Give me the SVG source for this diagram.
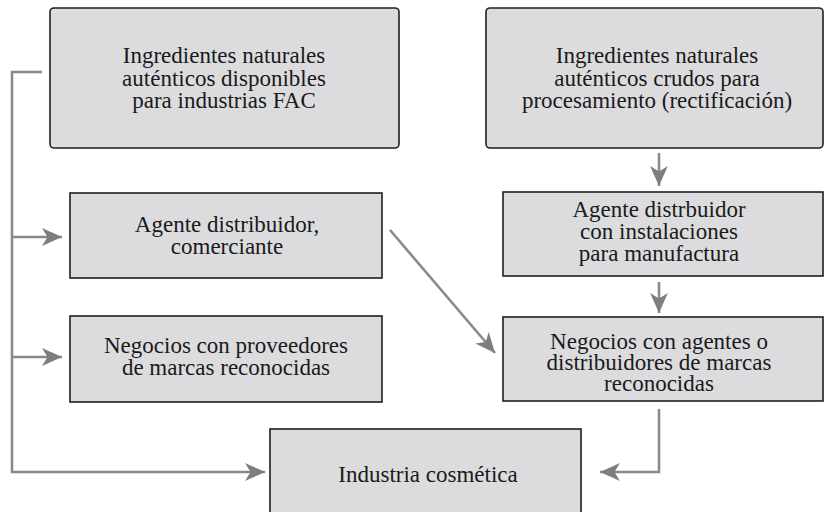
<svg xmlns="http://www.w3.org/2000/svg" width="825" height="512" viewBox="0 0 825 512">
<style>
  .box { fill: #dcdcde; stroke: #1e1e1e; stroke-width: 1.6; }
  .lbl { font-family: "Liberation Serif", "DejaVu Serif", serif; font-size: 23px; fill: #1a1a1a; text-anchor: middle; }
  .con { fill: none; stroke: #8a8a8c; stroke-width: 2.6; }
</style>
<defs>
  <marker id="ah" markerUnits="userSpaceOnUse" markerWidth="20" markerHeight="18" viewBox="0 0 18 16" refX="18" refY="8" orient="auto">
    <path d="M0,0 L18,8 L0,16 L5,8 z" fill="#7e7e80"/>
  </marker>
</defs>
<rect width="825" height="512" fill="#ffffff"/>
<g id="connectors">
  <polyline class="con" points="42,72 12,72 12,472 265,472" marker-end="url(#ah)"/>
  <line class="con" x1="12" y1="237" x2="62" y2="237" marker-end="url(#ah)"/>
  <line class="con" x1="12" y1="357" x2="62" y2="357" marker-end="url(#ah)"/>
  <line class="con" x1="390" y1="230" x2="495" y2="353" marker-end="url(#ah)"/>
  <line class="con" x1="659" y1="153" x2="659" y2="186" marker-end="url(#ah)"/>
  <line class="con" x1="659" y1="282" x2="659" y2="313" marker-end="url(#ah)"/>
  <polyline class="con" points="659,409 659,472 600,472" marker-end="url(#ah)"/>
</g>
<g id="n1">
  <rect class="box" x="50" y="8" width="349" height="140" rx="4"/>
  <text class="lbl" x="224" y="63">Ingredientes naturales</text>
  <text class="lbl" x="224" y="85.5">auténticos disponibles</text>
  <text class="lbl" x="224" y="108">para industrias FAC</text>
</g>
<g id="n2">
  <rect class="box" x="486" y="8" width="337" height="140" rx="4"/>
  <text class="lbl" x="657" y="63">Ingredientes naturales</text>
  <text class="lbl" x="657" y="85.5">auténticos crudos para</text>
  <text class="lbl" x="657" y="108">procesamiento (rectificación)</text>
</g>
<g id="n3">
  <rect class="box" x="70" y="193" width="312" height="85"/>
  <text class="lbl" x="227" y="232">Agente distribuidor,</text>
  <text class="lbl" x="227" y="254">comerciante</text>
</g>
<g id="n4">
  <rect class="box" x="70" y="316" width="312" height="86"/>
  <text class="lbl" x="226" y="353">Negocios con proveedores</text>
  <text class="lbl" x="226" y="375">de marcas reconocidas</text>
</g>
<g id="n5">
  <rect class="box" x="503" y="192" width="320" height="84"/>
  <text class="lbl" x="659" y="217">Agente distrbuidor</text>
  <text class="lbl" x="659" y="239">con instalaciones</text>
  <text class="lbl" x="659" y="261">para manufactura</text>
</g>
<g id="n6">
  <rect class="box" x="503" y="317" width="320" height="84"/>
  <text class="lbl" x="659" y="349">Negocios con agentes o</text>
  <text class="lbl" x="659" y="370">distribuidores de marcas</text>
  <text class="lbl" x="659" y="391">reconocidas</text>
</g>
<g id="n7">
  <rect class="box" x="270" y="429" width="311" height="95"/>
  <text class="lbl" x="428" y="482">Industria cosmética</text>
</g>
</svg>
